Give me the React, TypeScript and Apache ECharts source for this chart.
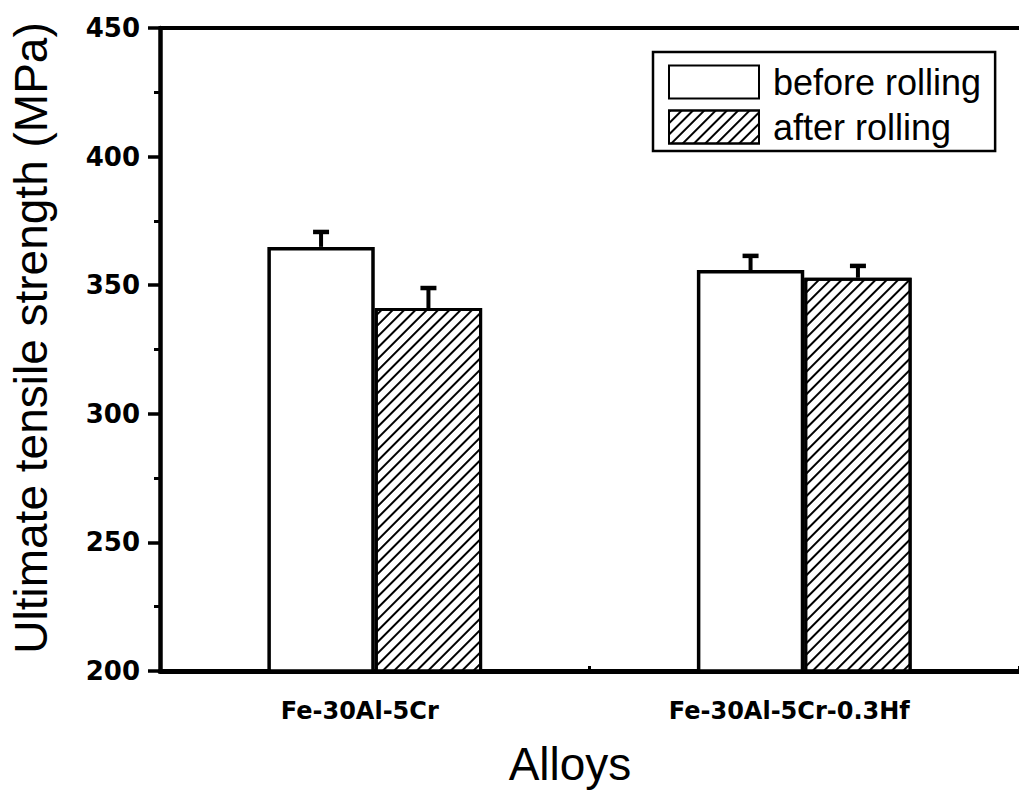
import React, { useEffect, useRef } from "react";
import * as echarts from "echarts";

const categories = ["Fe-30Al-5Cr", "Fe-30Al-5Cr-0.3Hf"];
const seriesNames = ["before rolling", "after rolling"];
const beforeValues = [364.9, 355.9];
const beforeErrors = [5.8, 5.5];
const afterValues = [341.1, 352.9];
const afterErrors = [7.8, 4.6];
const yTicks = { min: 200, max: 450, interval: 50 };
const yTitle = "Ultimate tensile strength (MPa)";
const xTitle = "Alloys";

export default function App() {
  const ref = useRef<HTMLDivElement>(null);
  useEffect(() => {
    const chart = echarts.init(ref.current!, null, { renderer: "svg" });
    const errData = (vals: number[], errs: number[]) =>
      vals.map((v, i) => [i, v, errs[i]]);
    const makeErr = (sign: number) => (params: any, api: any) => {
      const x = api.value(0);
      const v = api.value(1);
      const e = api.value(2);
      const band = api.size([1, 0])[0];
      const off = sign * band * 0.125;
      const p0 = api.coord([x, v]);
      const p1 = api.coord([x, v + e]);
      const cx = p0[0] + off;
      return {
        type: "group",
        children: [
          {
            type: "line",
            shape: { x1: cx, y1: p0[1], x2: cx, y2: p1[1] },
            style: { stroke: "#000", lineWidth: 4 },
          },
          {
            type: "line",
            shape: { x1: cx - 8, y1: p1[1], x2: cx + 8, y2: p1[1] },
            style: { stroke: "#000", lineWidth: 4.5 },
          },
        ],
      };
    };
    const hatch = {
      symbol: "rect",
      symbolSize: 1,
      dashArrayX: [1, 0],
      dashArrayY: [2, 6],
      rotation: -Math.PI / 4,
      color: "#000",
      backgroundColor: "#fff",
    };
    chart.setOption({
      animation: false,
      backgroundColor: "#fff",
      grid: { left: 160, right: -5, top: 28, bottom: 120 },
      legend: {
        data: seriesNames,
        orient: "vertical",
        left: 653,
        top: 52,
        padding: [12, 14, 6, 15],
        borderColor: "#000",
        borderWidth: 2.5,
        itemWidth: 90,
        itemHeight: 33,
        itemGap: 9,
        icon: "rect",
        textStyle: {
          fontFamily: "Liberation Sans",
          fontSize: 36,
          lineHeight: 34,
          color: "#000",
          padding: [0, 0, 0, 9],
        },
      },
      xAxis: [
        {
          type: "category",
          data: categories,
          position: "bottom",
          axisLine: { lineStyle: { color: "#000", width: 5 } },
          axisTick: { show: true, inside: true, length: 5, lineStyle: { color: "#000", width: 3 } },
          axisLabel: {
            color: "#000",
            fontFamily: "DejaVu Sans",
            fontWeight: "bold",
            fontSize: 24,
            margin: 28,
            padding: [0, 30, 0, 0],
          },
        },
        {
          type: "category",
          data: categories,
          position: "top",
          axisLine: { lineStyle: { color: "#000", width: 4 } },
          axisTick: { show: false },
          axisLabel: { show: false },
        },
      ],
      yAxis: {
        type: "value",
        min: yTicks.min,
        max: yTicks.max,
        interval: yTicks.interval,
        splitLine: { show: false },
        axisLine: { show: true, lineStyle: { color: "#000", width: 4.5 } },
        axisTick: { show: true, length: 12, lineStyle: { color: "#000", width: 3.5 } },
        minorTick: { show: true, splitNumber: 2, length: 6, lineStyle: { color: "#000", width: 3 } },
        axisLabel: {
          color: "#000",
          fontFamily: "DejaVu Sans",
          fontWeight: "bold",
          fontSize: 26,
          margin: 20,
        },
      },
      graphic: [
        {
          type: "text",
          x: 31,
          y: 338,
          rotation: Math.PI / 2,
          style: {
            text: yTitle,
            fontFamily: "Liberation Sans",
            fontSize: 46,
            fill: "#000",
            align: "center",
            verticalAlign: "middle",
          },
        },
        {
          type: "text",
          x: 570,
          y: 764,
          style: {
            text: xTitle,
            fontFamily: "Liberation Sans",
            fontSize: 46,
            fill: "#000",
            align: "center",
            verticalAlign: "middle",
          },
        },
      ],
      series: [
        {
          name: seriesNames[0],
          type: "bar",
          data: beforeValues,
          barWidth: "25%",
          barGap: "0%",
          itemStyle: { color: "#fff", borderColor: "#000", borderWidth: 3.5 },
        },
        {
          name: seriesNames[1],
          type: "bar",
          data: afterValues,
          barWidth: "25%",
          barGap: "0%",
          itemStyle: { color: "#fff", borderColor: "#000", borderWidth: 3, decal: hatch },
        },
        {
          type: "custom",
          renderItem: makeErr(-1),
          data: errData(beforeValues, beforeErrors),
          encode: { x: 0, y: 1 },
          z: 5,
        },
        {
          type: "custom",
          renderItem: makeErr(1),
          data: errData(afterValues, afterErrors),
          encode: { x: 0, y: 1 },
          z: 5,
        },
      ],
    });
    return () => chart.dispose();
  }, []);
  return (
    <div
      ref={ref}
      style={{ position: "absolute", left: 0, top: 0, width: 1019, height: 791 }}
    />
  );
}
